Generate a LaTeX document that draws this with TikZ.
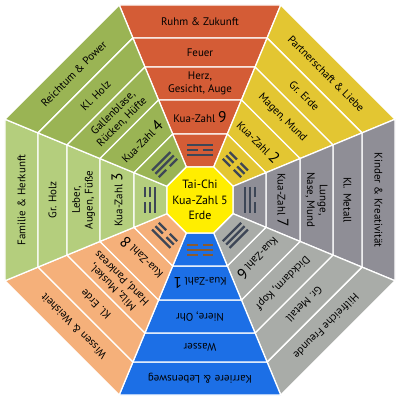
\documentclass[tikz,border=0pt]{standalone}
\usepackage{fontspec}
\setmainfont{PT Sans}
\definecolor{ruhm}{HTML}{D45C36}
\definecolor{partner}{HTML}{E3C632}
\definecolor{kinder}{HTML}{8F8E96}
\definecolor{freunde}{HTML}{A9ACA8}
\definecolor{karriere}{HTML}{1C6FE6}
\definecolor{wissen}{HTML}{F5B07A}
\definecolor{familie}{HTML}{B4CE7D}
\definecolor{reichtum}{HTML}{9AB454}
\definecolor{taichi}{HTML}{FFEE00}
\definecolor{trigrau}{HTML}{3D4656}
\definecolor{tribraun}{HTML}{8A5A30}

\tikzset{
  band/.style={draw=white,line width=0.9pt},
  sectortext/.style={align=center,inner sep=0pt,text=black,
    font=\fontsize{7.8}{9}\selectfont},
  trigline/.style={line width=1.6pt}
}

\begin{document}
\begin{tikzpicture}[x=0.025cm,y=0.025cm]
\useasboundingbox (-200,-200) rectangle (200,200);
\foreach \k/\col/\asp/\elem/\body/\kua/\tA/\tB/\tC/\tcol in {
  0/ruhm/{Ruhm \& Zukunft}/Feuer/{Herz,\\Gesicht, Auge}/9/1/0/1/trigrau,
  1/partner/{Partnerschaft \& Liebe}/{Gr. Erde}/{Magen, Mund}/2/0/0/0/trigrau,
  2/kinder/{Kinder \& Kreativität}/{Kl. Metall}/{Lunge,\\Nase, Mund}/7/0/1/1/trigrau,
  3/freunde/{Hilfreiche Freunde}/{Gr. Metall}/{Dickdarm, Kopf}/6/1/1/1/trigrau,
  4/karriere/{Karriere \& Lebensweg}/Wasser/{Niere, Ohr}/1/0/1/0/tribraun,
  5/wissen/{Wissen \& Weisheit}/{Kl. Erde}/{Milz, Muskel,\\Hand, Pankreas}/8/1/0/0/trigrau,
  6/familie/{Familie \& Herkunft}/{Gr. Holz}/{Leber,\\Augen, Füße}/3/0/0/1/trigrau,
  7/reichtum/{Reichtum \& Power}/{Kl. Holz}/{Gallenblase,\\Rücken, Hüfte}/4/1/1/0/trigrau}
{
\begin{scope}[rotate=-45*\k]
  \foreach \din/\dout in {162/195,133/162,100/133,66/100,33/66}
    \fill[\col,band] (-0.41421*\din,\din) -- (0.41421*\din,\din)
      -- (0.41421*\dout,\dout) -- (-0.41421*\dout,\dout) -- cycle;
  \node[sectortext,rotate=-45*\k] (asp\k) at (0,178.5) {\asp};
  \node[sectortext,rotate=-45*\k] (elem\k) at (0,147.5) {\elem};
  \node[sectortext,rotate=-45*\k] (body\k) at (0,116.5) {\body};
  \node[sectortext,rotate=-45*\k] (kua\k) at (0,83)
    {Kua-Zahl {\fontsize{11}{11}\selectfont\kua}};
  \foreach \s [count=\i] in {\tA,\tB,\tC} {
    \pgfmathsetmacro\yy{50+4.8*(2-\i)}
    \ifnum\s=1
      \draw[trigline,\tcol] (-13,\yy) -- (13,\yy);
    \else
      \draw[trigline,\tcol] (-13,\yy) -- (-2.5,\yy) (2.5,\yy) -- (13,\yy);
    \fi
  }
\end{scope}
}
\fill[taichi,band] (22.5:35.7) -- (67.5:35.7) -- (112.5:35.7) -- (157.5:35.7)
  -- (202.5:35.7) -- (247.5:35.7) -- (292.5:35.7) -- (337.5:35.7) -- cycle;
\node[sectortext,font=\fontsize{8.5}{10.8}\selectfont] (taichitext) at (0,0)
  {Tai-Chi\\Kua-Zahl 5\\Erde};
\end{tikzpicture}
\end{document}
